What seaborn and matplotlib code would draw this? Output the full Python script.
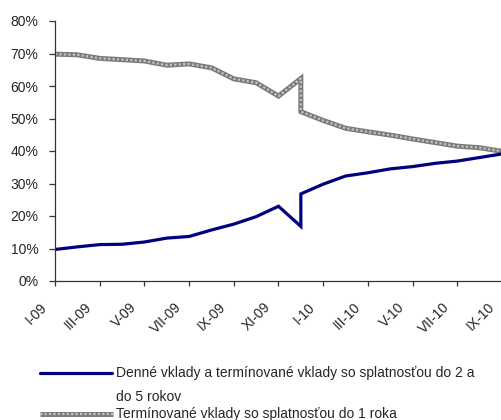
import matplotlib
matplotlib.use("Agg")
import matplotlib.pyplot as plt
from matplotlib.lines import Line2D
import matplotlib.transforms as mtransforms
import seaborn as sns
import pandas as pd

# ---- data ----
month_order = ["I-09", "II-09", "III-09", "IV-09", "V-09", "VI-09", "VII-09", "VIII-09",
               "IX-09", "X-09", "XI-09", "XII-09", "I-10", "II-10", "III-10", "IV-10",
               "V-10", "VI-10", "VII-10", "VIII-10", "IX-10"]
periods = ["I-09", "II-09", "III-09", "IV-09", "V-09", "VI-09", "VII-09", "VIII-09",
           "IX-09", "X-09", "XI-09", "XII-09", "XII-09", "I-10", "II-10", "III-10", "IV-10",
           "V-10", "VI-10", "VII-10", "VIII-10", "IX-10"]
daily_2_5y = [9.7, 10.5, 11.2, 11.3, 12.0, 13.2, 13.7, 15.7, 17.5, 19.8, 23.0, 16.8,
              26.8, 29.8, 32.3, 33.3, 34.5, 35.2, 36.2, 36.9, 38.0, 39.1]
term_1y = [69.8, 69.6, 68.5, 68.1, 67.7, 66.4, 66.8, 65.6, 62.2, 61.0, 56.9, 62.3,
           52.1, 49.4, 47.0, 45.9, 44.9, 43.7, 42.6, 41.5, 41.0, 39.9]
tick_labels = ["I-09", "III-09", "V-09", "VII-09", "IX-09", "XI-09", "I-10", "III-10",
               "V-10", "VII-10", "IX-10"]
label_blue = "Denné vklady a termínované vklady so splatnosťou do 2 a\ndo 5 rokov"
label_gray = "Termínované vklady so splatnosťou do 1 roka"

pos = [month_order.index(p) for p in periods]
df = pd.DataFrame({"x": pos, "blue": daily_2_5y, "gray": term_1y})

sns.set_style("white")
plt.rcParams["font.family"] = ["Liberation Sans", "DejaVu Sans"]

W, H = 502, 420
fig = plt.figure(figsize=(W / 100, H / 100), dpi=100)
ax = fig.add_axes([55 / W, 1 - 281 / H, (W - 55) / W, (281 - 21) / H])

# gray textured line
sns.lineplot(data=df, x="x", y="gray", ax=ax, estimator=None, sort=False,
             color="#7a7a7a", linewidth=3.6, solid_capstyle="butt", solid_joinstyle="miter")
sns.lineplot(data=df, x="x", y="gray", ax=ax, estimator=None, sort=False,
             color="#c4c4c4", linewidth=1.6, linestyle=(0, (1, 1)))
# blue line
sns.lineplot(data=df, x="x", y="blue", ax=ax, estimator=None, sort=False,
             color="#000080", linewidth=2.3, solid_joinstyle="miter")

ax.set_xlim(0, len(month_order) - 1)
ax.set_ylim(0, 80)
ax.set_yticks(range(0, 81, 10))
ax.set_yticklabels([f"{v}%" for v in range(0, 81, 10)])
xt = [month_order.index(t) for t in tick_labels]
ax.set_xticks(xt)
ax.set_xticklabels([])
offset = mtransforms.ScaledTranslation(-10 / 100, -24 / 100, fig.dpi_scale_trans)
for xv, lab in zip(xt, tick_labels):
    ax.text(xv, 0, lab, transform=ax.get_xaxis_transform() + offset, rotation=45,
            ha="right", va="center", rotation_mode="anchor", fontsize=10, clip_on=False)
ax.set_xlabel("")
ax.set_ylabel("")
for s in ["top", "right"]:
    ax.spines[s].set_visible(False)
for s in ["left", "bottom"]:
    ax.spines[s].set_color("#333333")
    ax.spines[s].set_linewidth(0.9)
ax.tick_params(axis="y", direction="out", length=4, width=0.9, color="#333333",
               pad=8, labelsize=10, left=True)
ax.tick_params(axis="x", direction="out", length=3.6, width=0.9, color="#333333",
               pad=4, labelsize=10, bottom=True)
ax.grid(False)

# legend (drawn manually to match layout)
def fy(y):
    return 1 - y / H

fig.add_artist(Line2D([40 / W, 112 / W], [fy(373), fy(373)], color="#000080", linewidth=2.3))
fig.text(116 / W, fy(373), label_blue.split("\n")[0], fontsize=10, va="center", ha="left")
fig.text(116 / W, fy(397), label_blue.split("\n")[1], fontsize=10, va="center", ha="left")
fig.add_artist(Line2D([40 / W, 113 / W], [fy(414), fy(414)], color="#7a7a7a",
                      linewidth=3.6, solid_capstyle="butt"))
fig.add_artist(Line2D([40 / W, 113 / W], [fy(414), fy(414)], color="#c4c4c4",
                      linewidth=1.6, linestyle=(0, (1, 1))))
fig.text(116 / W, fy(414), label_gray, fontsize=10, va="center", ha="left")

fig.savefig("out.png", dpi=100)
